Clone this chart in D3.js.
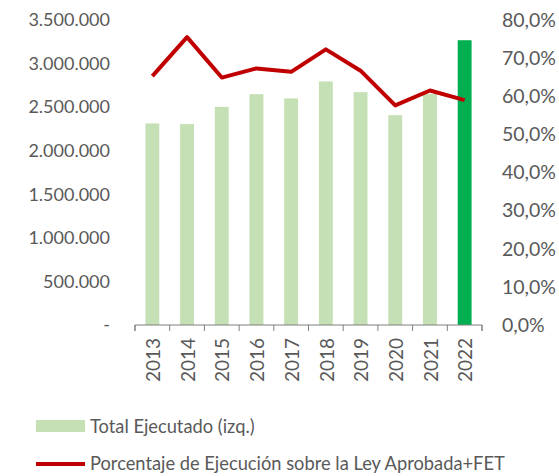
<!DOCTYPE html>
<html><head><meta charset="utf-8">
<script src="https://cdn.jsdelivr.net/npm/d3@7"></script>
<style>body{margin:0;background:#fff}svg{display:block}text{font-family:Lato,"Open Sans",sans-serif;fill:#595959}</style>
</head><body><svg id="c" width="559" height="476"></svg>
<script>
const years = ["2013","2014","2015","2016","2017","2018","2019","2020","2021","2022"];
const totalEjecutado = [2313000,2305000,2503000,2649000,2600000,2795000,2672000,2408000,2650000,3268000];
const porcentaje = [65.3,75.5,64.9,67.3,66.4,72.3,66.7,57.6,61.5,59.0];
const leftTicks = [0,500000,1000000,1500000,2000000,2500000,3000000,3500000];
const rightTicks = [0,10,20,30,40,50,60,70,80];
const legendLabels = ["Total Ejecutado (izq.)","Porcentaje de Ejecución sobre la Ley Aprobada+FET"];

const svg = d3.select("#c");
const x = d3.scaleBand().domain(years).range([135,482]).padding(0);
const yL = d3.scaleLinear().domain([0,3500000]).range([325,20]);
const yR = d3.scaleLinear().domain([0,80]).range([325,20]);
const fmtL = v => v===0 ? "-" : d3.format(",")(v).replace(/,/g,".");
const fmtR = v => v.toFixed(1).replace(".",",")+"%";

// left axis labels
svg.append("g").selectAll("text").data(leftTicks).join("text")
  .attr("x",110).attr("y",d=>yL(d)).attr("dy","0.35em").attr("text-anchor","end")
  .style("font-size","18px").text(fmtL);
// right axis labels
svg.append("g").selectAll("text").data(rightTicks).join("text")
  .attr("x",502).attr("y",d=>yR(d)).attr("dy","0.35em").attr("text-anchor","start")
  .style("font-size","19.5px").text(fmtR);

// bars
const bw = x.bandwidth()*0.4;
svg.append("g").selectAll("rect").data(years).join("rect")
  .attr("x",d=>x(d)+x.bandwidth()/2-bw/2).attr("width",bw)
  .attr("y",(d,i)=>yL(totalEjecutado[i])).attr("height",(d,i)=>yL(0)-yL(totalEjecutado[i]))
  .attr("fill",(d,i)=>i===years.length-1?"#00B050":"#C5E0B4");

// x axis
const xAxis = d3.axisBottom(x).tickSize(6).tickFormat("");
const gx = svg.append("g").attr("transform","translate(0,325)").call(xAxis);
gx.select(".domain").attr("stroke","#7f7f7f").attr("d","M135,6V0H482V6");
gx.selectAll(".tick").remove();
gx.selectAll(".bt").data([...years.map(d=>x(d)),482]).join("line")
  .attr("x1",d=>d).attr("x2",d=>d).attr("y1",0).attr("y2",6).attr("stroke","#7f7f7f");
svg.append("g").selectAll("text").data(years).join("text")
  .attr("transform",d=>`translate(${x(d)+x.bandwidth()/2+1},338) rotate(-90)`)
  .attr("text-anchor","end").attr("dy","0.35em").style("font-size","19px").text(d=>d);

// line
const line = d3.line().x((d,i)=>x(years[i])+x.bandwidth()/2).y(d=>yR(d));
svg.append("path").datum(porcentaje).attr("d",line).attr("fill","none")
  .attr("stroke","#C00000").attr("stroke-width",4).attr("stroke-linejoin","round");

// legend
svg.append("rect").attr("x",36).attr("y",420).attr("width",49).attr("height",12).attr("fill","#C5E0B4");
svg.append("text").attr("x",90).attr("y",433).style("font-size","18.3px").text(legendLabels[0]);
svg.append("line").attr("x1",36).attr("x2",85).attr("y1",464).attr("y2",464).attr("stroke","#C00000").attr("stroke-width",4);
svg.append("text").attr("x",90).attr("y",470).style("font-size","18.3px").text(legendLabels[1]);
</script></body></html>
